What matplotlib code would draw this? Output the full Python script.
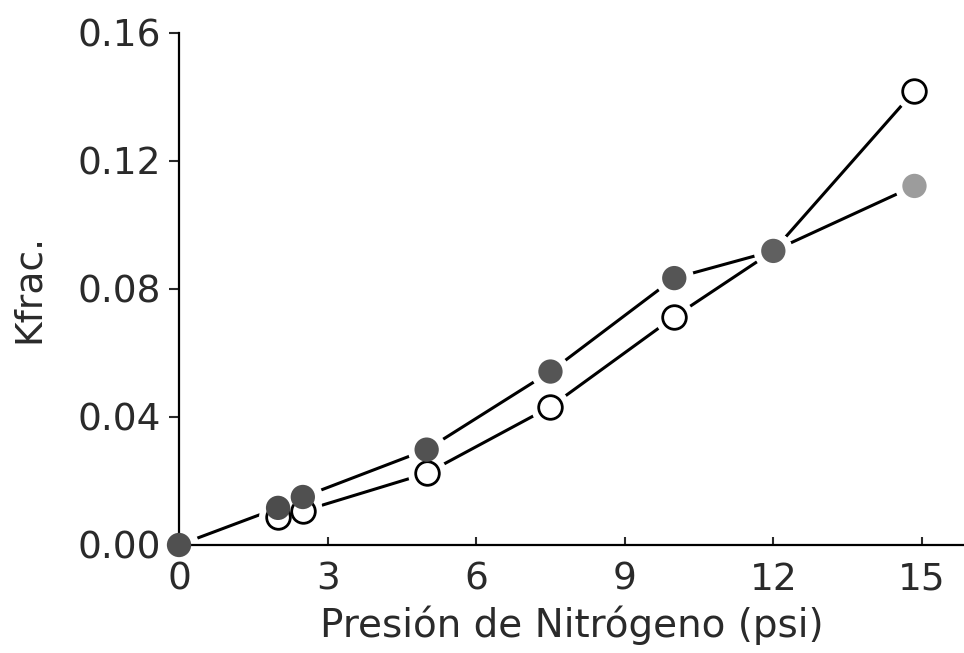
import numpy as np
import matplotlib.pyplot as plt

# datos
presion = [0, 2, 2.5, 5, 7.5, 10, 12, 14.85]
k_lleno = [0.0, 0.0116, 0.0150, 0.0298, 0.0542, 0.0834, 0.0919, 0.1122]
k_vacio = [0.0, 0.0088, 0.0106, 0.0224, 0.0432, 0.0713, 0.0919, 0.1419]
gris_lleno = ['#505050', '#4c4c4c', '#505050', '#525252', '#555555', '#555555', '#606060', '#9c9c9c']

xticks = [0, 3, 6, 9, 12, 15]
yticks = [0.00, 0.04, 0.08, 0.12, 0.16]

fig = plt.figure(figsize=(9.64, 6.53), dpi=100)
ax = fig.add_axes([0.1857, 0.1654, 0.8143, 0.7841])

ms = 17
mew = 2.0
# lineas
ax.plot(presion[1:], k_vacio[1:], color='black', lw=2.2, zorder=1)
ax.plot(presion, k_lleno, color='black', lw=2.2, zorder=1)
# halo blanco para cortar las lineas cerca de los marcadores
ax.plot(presion[1:], k_vacio[1:], 'o', ms=28, mfc='white', mec='none', ls='none', zorder=2)
ax.plot(presion, k_lleno, 'o', ms=28, mfc='white', mec='none', ls='none', zorder=2)
# marcadores vacios (el de 12 queda tapado por el lleno)
ax.plot(presion[1:6], k_vacio[1:6], 'o', ms=ms, mfc='white', mec='black', mew=mew, ls='none', zorder=3)
ax.plot(presion[7:], k_vacio[7:], 'o', ms=ms, mfc='white', mec='black', mew=mew, ls='none', zorder=3)
# marcadores llenos
ax.scatter(presion, k_lleno, s=(ms + 0.5) ** 2, c=gris_lleno, edgecolors='none', zorder=4, clip_on=False)

ax.set_xlim(0, 15.85)
ax.set_ylim(0, 0.16)
ax.set_xticks(xticks)
ax.set_yticks(yticks)
ax.set_yticklabels(['%.2f' % v for v in yticks])

ax.spines['top'].set_visible(False)
ax.spines['right'].set_visible(False)
ax.spines['left'].set_linewidth(1.6)
ax.spines['bottom'].set_linewidth(1.6)

ax.tick_params(axis='x', direction='in', length=6, width=1.5, pad=12, labelsize=27, colors='#2a2a2a')
ax.tick_params(axis='y', direction='out', length=7, width=1.5, pad=6, labelsize=27, colors='#2a2a2a')

ax.set_xlabel('Presión de Nitrógeno (psi)', fontsize=28, color='#2a2a2a', labelpad=6)
ax.set_ylabel('Kfrac.', fontsize=27, color='#2a2a2a', labelpad=22)

fig.savefig('out.png', dpi=100)
